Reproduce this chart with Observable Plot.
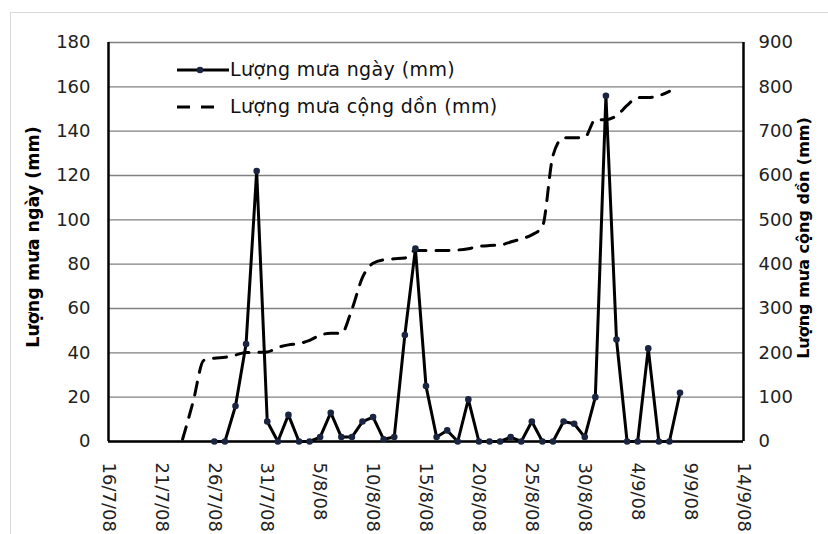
<!DOCTYPE html>
<html>
<head>
<meta charset="utf-8">
<script src="https://cdn.jsdelivr.net/npm/d3@7"></script>
<script src="https://cdn.jsdelivr.net/npm/@observablehq/plot@0.6"></script>
<style>
  html, body { margin: 0; padding: 0; background: #fff; width: 828px; height: 534px; overflow: hidden; }
  #wrap { position: relative; width: 828px; height: 534px; }
  #border { position: absolute; left: 10px; top: 12px; width: 900px; height: 600px; border: 1px solid #d9d9d9; }
  #chart { position: absolute; left: 0; top: 0; }
  .lg { position: absolute; font-family: "DejaVu Sans", sans-serif; font-size: 19px; line-height: 22px; color: #111; white-space: nowrap; letter-spacing: 0.4px; }
  .sw { position: absolute; }
</style>
</head>
<body>
<div id="wrap">
  <div id="border"></div>
  <div id="chart"></div>
  <svg class="sw" style="left:177px;top:60px" width="54" height="20">
    <line x1="0" x2="52" y1="10" y2="10" stroke="#000" stroke-width="3"/>
    <circle cx="23" cy="10" r="3.3" fill="#1b2440"/>
  </svg>
  <div class="lg" id="lg1" style="left:230px;top:58px"></div>
  <svg class="sw" style="left:177px;top:97px" width="54" height="20">
    <line x1="0" x2="38" y1="10" y2="10" stroke="#000" stroke-width="3" stroke-dasharray="13,11"/>
  </svg>
  <div class="lg" id="lg2" style="left:230px;top:95px"></div>
</div>
<script>
// ---- Data ----
const dailyLabel = "Lượng mưa ngày (mm)";
const cumLabel = "Lượng mưa cộng dồn (mm)";

const dailyDates = [
  "2008-07-26","2008-07-27","2008-07-28","2008-07-29","2008-07-30","2008-07-31",
  "2008-08-01","2008-08-02","2008-08-03","2008-08-04","2008-08-05","2008-08-06","2008-08-07",
  "2008-08-08","2008-08-09","2008-08-10","2008-08-11","2008-08-12","2008-08-13","2008-08-14",
  "2008-08-15","2008-08-16","2008-08-17","2008-08-18","2008-08-19","2008-08-20","2008-08-21",
  "2008-08-22","2008-08-23","2008-08-24","2008-08-25","2008-08-26","2008-08-27","2008-08-28",
  "2008-08-29","2008-08-30","2008-08-31",
  "2008-09-01","2008-09-02","2008-09-03","2008-09-04","2008-09-05","2008-09-06","2008-09-07","2008-09-08"
];
const dailyValues = [
  0, 0, 16, 44, 122, 9,
  0, 12, 0, 0, 2, 13, 2,
  2, 9, 11, 1, 2, 48, 87,
  25, 2, 5, 0, 19, 0, 0,
  0, 2, 0, 9, 0, 0, 9,
  8, 2, 20,
  156, 46, 0, 0, 42, 0, 0, 22
];

const cumDates = [
  "2008-07-23","2008-07-24","2008-07-25","2008-07-26","2008-07-27","2008-07-28","2008-07-29",
  "2008-07-30","2008-07-31","2008-08-01","2008-08-02","2008-08-03","2008-08-04","2008-08-05",
  "2008-08-06","2008-08-07","2008-08-08","2008-08-09","2008-08-10","2008-08-11","2008-08-12",
  "2008-08-13","2008-08-14","2008-08-15","2008-08-16","2008-08-17","2008-08-18","2008-08-19",
  "2008-08-20","2008-08-21","2008-08-22","2008-08-23","2008-08-24","2008-08-25","2008-08-26",
  "2008-08-27","2008-08-28","2008-08-29","2008-08-30","2008-08-31","2008-09-01","2008-09-02",
  "2008-09-03","2008-09-04","2008-09-05","2008-09-06","2008-09-07"
];
const cumValues = [
  5, 90, 183, 188, 190, 195, 201,
  201, 202, 212, 218, 221, 228, 240,
  244, 244, 298, 370, 402, 410, 412,
  414, 431, 431, 431, 431, 432, 435,
  440, 442, 443, 450, 457, 466, 485,
  645, 685, 685, 686, 726, 726, 735,
  758, 776, 776, 780, 790
];

const xTickDates = ["2008-07-16","2008-07-21","2008-07-26","2008-07-31","2008-08-05","2008-08-10",
  "2008-08-15","2008-08-20","2008-08-25","2008-08-30","2008-09-04","2008-09-09","2008-09-14"];
const xTickLabels = ["16/7/08","21/7/08","26/7/08","31/7/08","5/8/08","10/8/08",
  "15/8/08","20/8/08","25/8/08","30/8/08","4/9/08","9/9/08","14/9/08"];
const leftTicks = [0, 20, 40, 60, 80, 100, 120, 140, 160, 180];
const rightTicks = [0, 100, 200, 300, 400, 500, 600, 700, 800, 900];

// ---- Build ----
const ratio = rightTicks[rightTicks.length - 1] / leftTicks[leftTicks.length - 1]; // 5
const daily = dailyDates.map((d, i) => ({date: new Date(d), v: dailyValues[i]}));
const cum = cumDates.map((d, i) => ({date: new Date(d), v: cumValues[i]}));
const xTicks = xTickDates.map(d => new Date(d));
const xDomain = [xTicks[0], xTicks[xTicks.length - 1]];
const labelFor = new Map(xTicks.map((d, i) => [+d, xTickLabels[i]]));

document.getElementById("lg1").textContent = dailyLabel;
document.getElementById("lg2").textContent = cumLabel;

const chart = Plot.plot({
  width: 828,
  height: 534,
  marginLeft: 108,
  marginRight: 85,
  marginTop: 42,
  marginBottom: 93,
  style: {fontFamily: "DejaVu Sans, sans-serif", fontSize: "18px", color: "#222", background: "transparent", overflow: "visible"},
  x: {type: "utc", domain: xDomain},
  y: {domain: [leftTicks[0], leftTicks[leftTicks.length - 1]]},
  marks: [
    Plot.gridY(leftTicks, {stroke: "#808080", strokeOpacity: 1, strokeWidth: 1.4}),
    Plot.axisY(leftTicks, {anchor: "left", tickSize: 0, tickPadding: 18, label: null}),
    Plot.axisY(rightTicks.map(v => v / ratio), {anchor: "right", tickSize: 0, tickPadding: 15, label: null,
      tickFormat: (d) => String(Math.round(d * ratio))}),
    Plot.axisX(xTicks, {anchor: "bottom", tickSize: 0, tickPadding: 21, tickRotate: 90, label: null,
      tickFormat: d => labelFor.get(+d)}),
    Plot.text([dailyLabel], {frameAnchor: "left", textAnchor: "middle", rotate: -90, dx: -75, dy: -5, fontWeight: "bold", fontSize: 17.5, fill: "#000"}),
    Plot.text([cumLabel], {frameAnchor: "right", textAnchor: "middle", rotate: -90, dx: 60, dy: -4, fontWeight: "bold", fontSize: 16, fill: "#000"}),
    Plot.ruleX(xDomain, {stroke: "#000", strokeWidth: 2.5}),
    Plot.ruleY([0], {stroke: "#000", strokeWidth: 2.5}),
    Plot.line(cum, {x: "date", y: d => d.v / ratio, stroke: "#000", strokeWidth: 3, strokeDasharray: "13,10", curve: "monotone-x"}),
    Plot.line(daily, {x: "date", y: "v", stroke: "#000", strokeWidth: 3}),
    Plot.dot(daily, {x: "date", y: "v", r: 3.3, fill: "#1b2440", stroke: "none"})
  ]
});
document.getElementById("chart").appendChild(chart);
</script>
</body>
</html>
